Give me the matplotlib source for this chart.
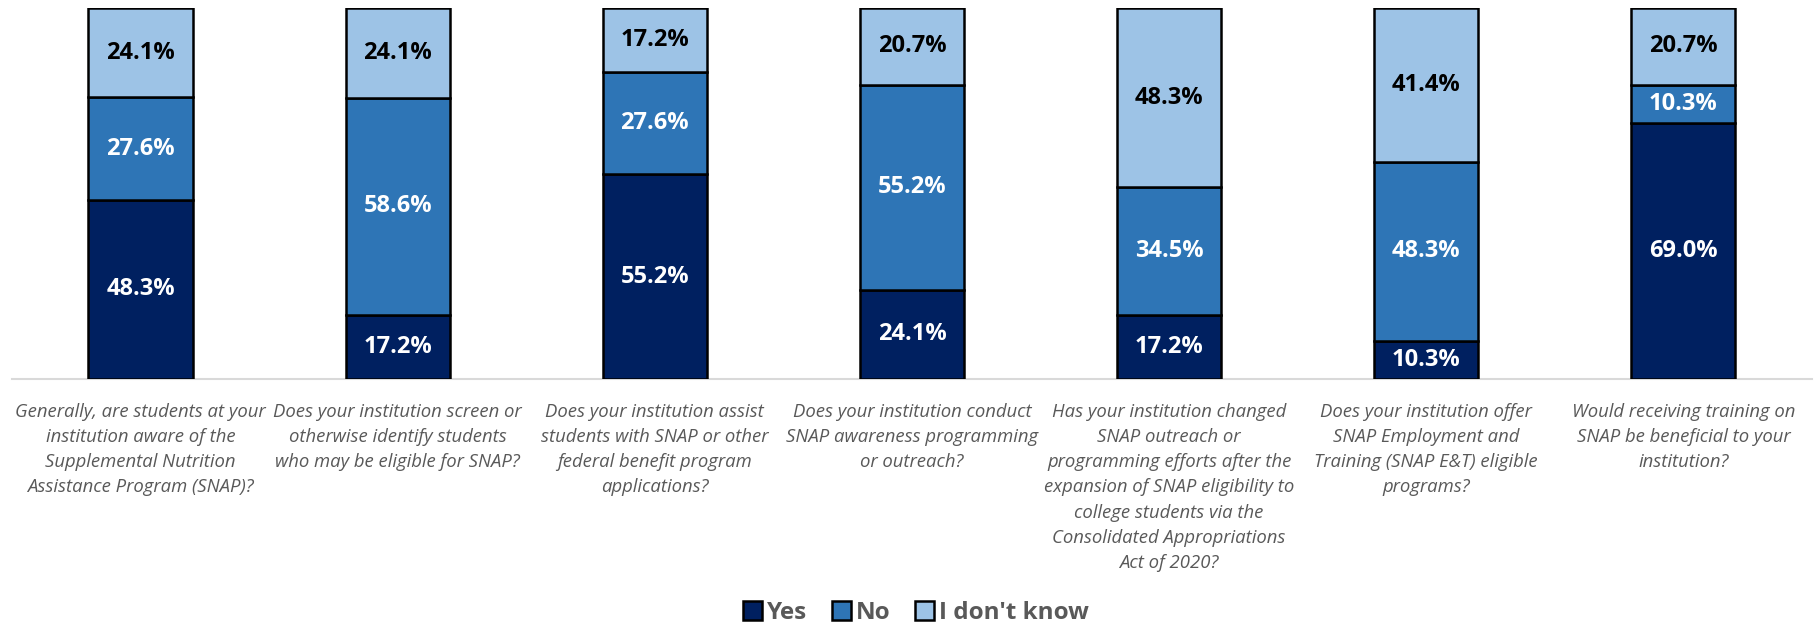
import matplotlib
matplotlib.use("Agg")
import matplotlib.pyplot as plt
import numpy as np
from matplotlib.patches import Patch

categories = [
    "Generally, are students at your\ninstitution aware of the\nSupplemental Nutrition\nAssistance Program (SNAP)?",
    "Does your institution screen or\notherwise identify students\nwho may be eligible for SNAP?",
    "Does your institution assist\nstudents with SNAP or other\nfederal benefit program\napplications?",
    "Does your institution conduct\nSNAP awareness programming\nor outreach?",
    "Has your institution changed\nSNAP outreach or\nprogramming efforts after the\nexpansion of SNAP eligibility to\ncollege students via the\nConsolidated Appropriations\nAct of 2020?",
    "Does your institution offer\nSNAP Employment and\nTraining (SNAP E&T) eligible\nprograms?",
    "Would receiving training on\nSNAP be beneficial to your\ninstitution?",
]
yes = [48.3, 17.2, 55.2, 24.1, 17.2, 10.3, 69.0]
no = [27.6, 58.6, 27.6, 55.2, 34.5, 48.3, 10.3]
dont_know = [24.1, 24.1, 17.2, 20.7, 48.3, 41.4, 20.7]
series_names = ["Yes", "No", "I don't know"]

colors = ["#002060", "#2E75B6", "#9DC3E6"]
label_colors = ["white", "white", "black"]

plt.rcParams['font.family'] = ['Open Sans', 'DejaVu Sans']

fig = plt.figure(figsize=(18.18, 6.26), dpi=100)
ax = fig.add_axes([12/1818, 1 - 379/626, 1800/1818, (379 - 8)/626])

x = np.arange(len(categories))
bottom = np.zeros(len(categories))
for vals, c, lc, name in zip([yes, no, dont_know], colors, label_colors, series_names):
    vals = np.array(vals)
    ax.bar(x, vals, width=0.405, bottom=bottom, color=c, edgecolor="black",
           linewidth=1.8, label=name, zorder=3)
    for xi, b, v in zip(x, bottom, vals):
        ax.text(xi, b + v / 2, f"{v:.1f}%", ha="center", va="center",
                color=lc, fontsize=17, fontweight="bold", zorder=4)
    bottom += vals

ax.set_xlim(-0.5, len(categories) - 0.5)
ax.set_ylim(0, 100)
ax.set_yticks([])
ax.set_xticks(x)
ax.set_xticklabels(categories, fontsize=13.3, style="italic", color="#595959",
                   linespacing=1.52, va="top")
ax.tick_params(axis="x", length=0, pad=17)
for s in ["top", "right", "left"]:
    ax.spines[s].set_visible(False)
ax.spines["bottom"].set_color("#d9d9d9")
ax.spines["bottom"].set_linewidth(1.5)

handles = [Patch(facecolor=c, edgecolor="black", linewidth=1.8) for c in colors]
leg = fig.legend(handles, series_names, loc="center", bbox_to_anchor=(916/1818, 1 - 613/626),
                 ncol=3, frameon=False, handlelength=0.8, handleheight=0.8,
                 handletextpad=0.2, columnspacing=1.0,
                 prop={"size": 17.5, "weight": "bold"})
for t in leg.get_texts():
    t.set_color("#595959")

fig.savefig("out.png", dpi=100)
